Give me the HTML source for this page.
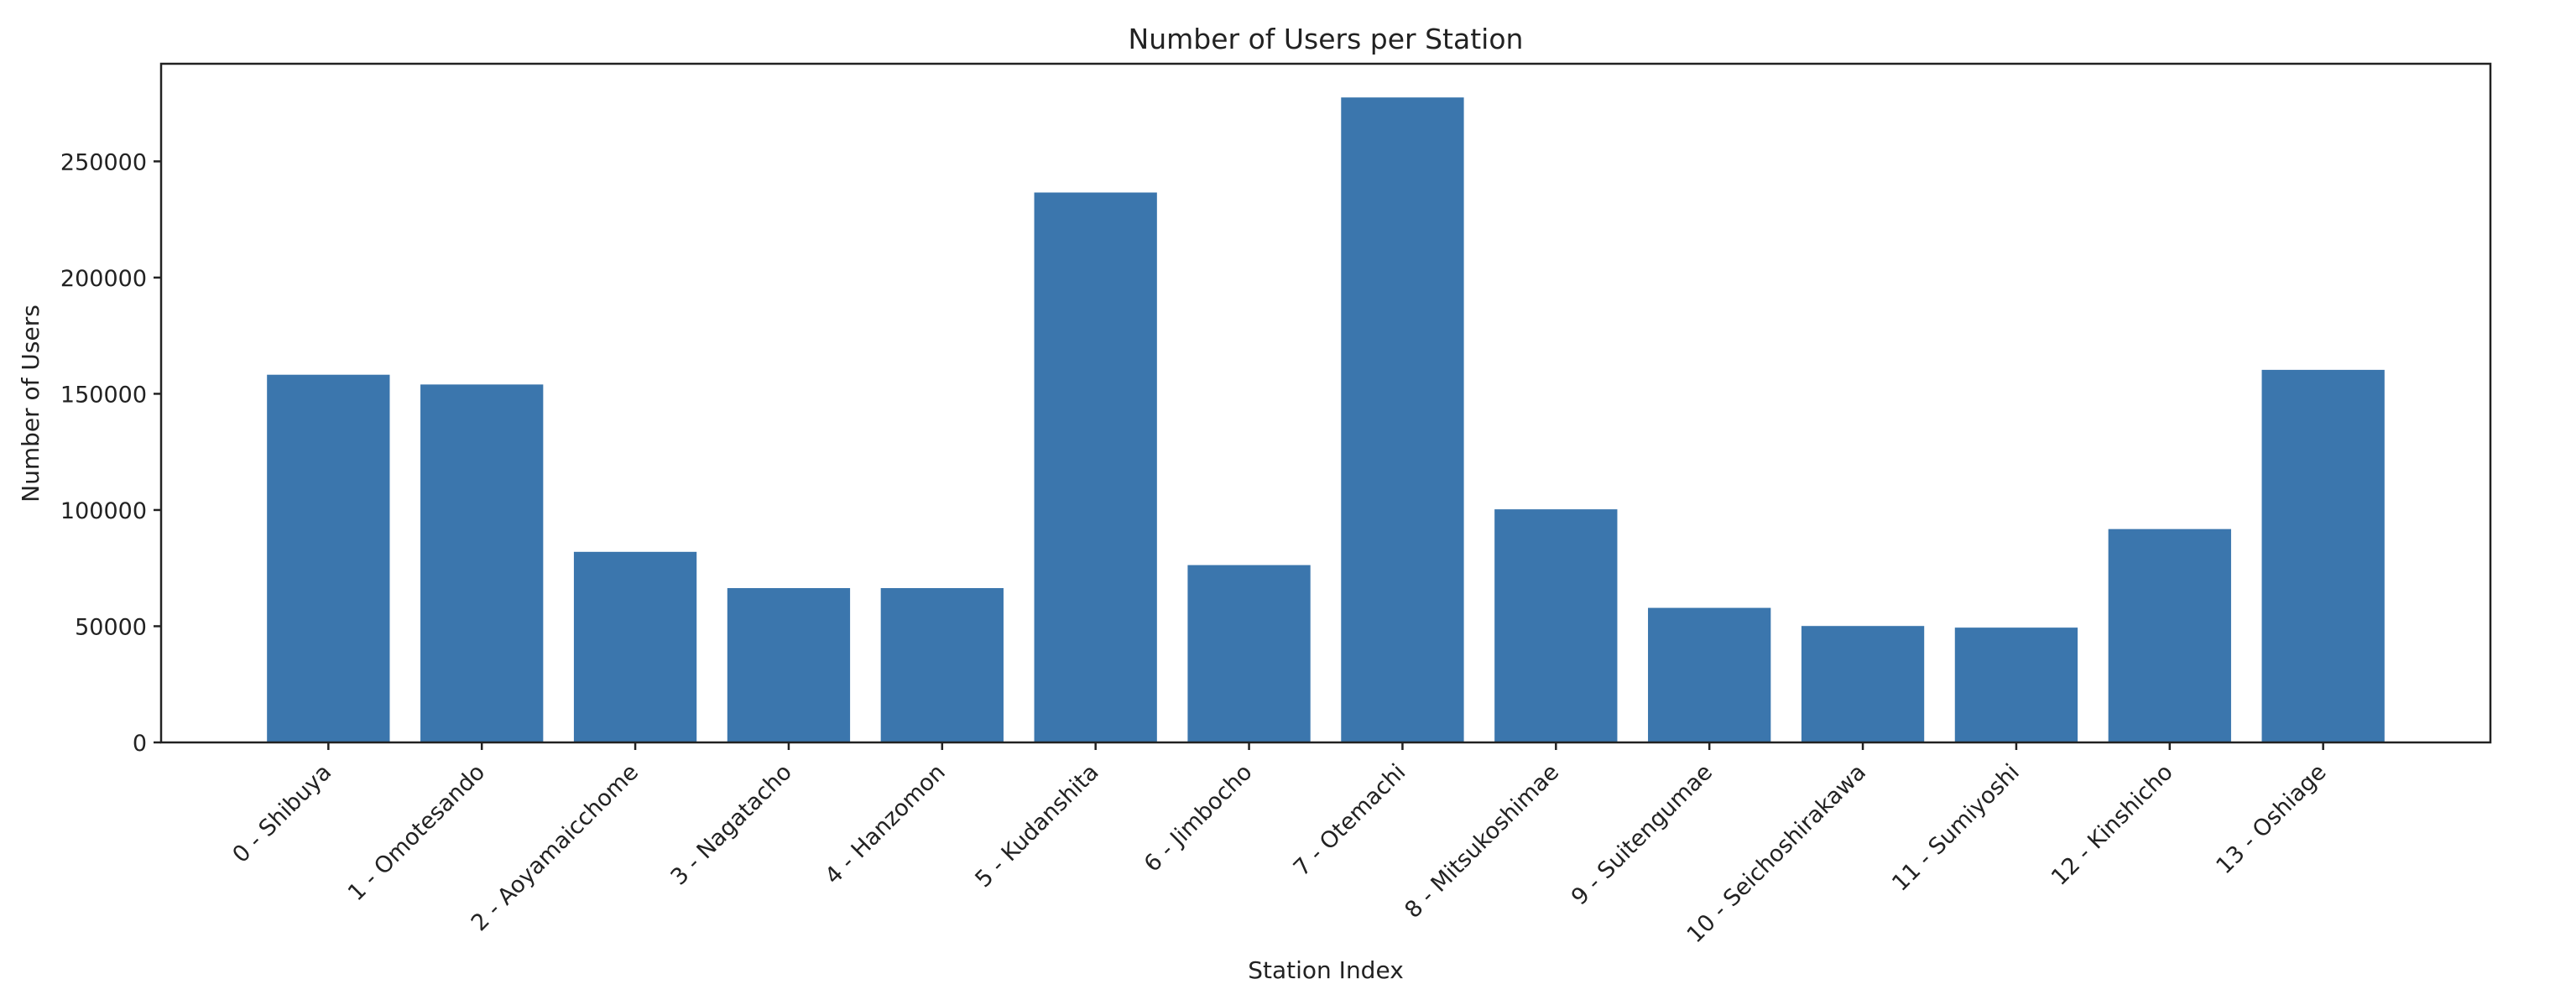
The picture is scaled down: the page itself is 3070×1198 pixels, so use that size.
<!DOCTYPE html>
<html><head><meta charset="utf-8"><style>
html,body{margin:0;padding:0;background:#fff;}
svg{display:block;font-family:"DejaVu Sans","Liberation Sans",sans-serif;}
</style></head><body>
<svg id="chart" width="3070" height="1198" viewBox="0 0 3070 1198" xmlns="http://www.w3.org/2000/svg">
<rect x="0" y="0" width="3070" height="1198" fill="#fff"/>
<text x="1580" y="58" text-anchor="middle" font-size="33" fill="#222">Number of Users per Station</text>
<text x="1580" y="1166" text-anchor="middle" font-size="28" fill="#222">Station Index</text>
<text transform="translate(46,481) rotate(-90)" text-anchor="middle" font-size="28" fill="#222">Number of Users</text>
<g id="bars"></g><g id="xticks"></g><g id="yticks"></g>
<rect x="192" y="76" width="2776" height="809" fill="none" stroke="#222" stroke-width="2.5"/>
</svg>
<script>
const categories = ["0 - Shibuya","1 - Omotesando","2 - Aoyamaicchome","3 - Nagatacho","4 - Hanzomon","5 - Kudanshita","6 - Jimbocho","7 - Otemachi","8 - Mitsukoshimae","9 - Suitengumae","10 - Seichoshirakawa","11 - Sumiyoshi","12 - Kinshicho","13 - Oshiage"];
const users = [158200,154000,82000,66400,66400,236600,76300,277500,100300,57900,50100,49400,91800,160300];
const yTicks = [0,50000,100000,150000,200000,250000];
const yTickLabels = ["0","50000","100000","150000","200000","250000"];

const NS="http://www.w3.org/2000/svg";
const L=192,R=2968,T=76,B=885;
const xMin=-1.09,xMax=categories.length-1+1.09,yMax=292000;
function xs(v){return L+(v-xMin)/(xMax-xMin)*(R-L);}
function ys(v){return B-v/yMax*(B-T);}
const unit=xs(1)-xs(0);
const gb=document.getElementById('bars'),gx=document.getElementById('xticks'),gy=document.getElementById('yticks');
users.forEach((v,i)=>{
  const r=document.createElementNS(NS,'rect');
  r.setAttribute('x',xs(i-0.4));r.setAttribute('y',ys(v));
  r.setAttribute('width',unit*0.8);r.setAttribute('height',ys(0)-ys(v));
  r.setAttribute('fill','#3b76ad');
  
  
  gb.appendChild(r);
});
categories.forEach((c,i)=>{
  const cx=xs(i);
  const t=document.createElementNS(NS,'line');
  t.setAttribute('x1',cx);t.setAttribute('x2',cx);t.setAttribute('y1',B);t.setAttribute('y2',B+9);
  t.setAttribute('stroke','#222');t.setAttribute('stroke-width','2.5');
  
  
  gx.appendChild(t);
  const tx=document.createElementNS(NS,'text');
  tx.setAttribute('transform','translate('+(cx+5)+','+(B+37)+') rotate(-45)');
  tx.setAttribute('text-anchor','end');tx.setAttribute('font-size','27');tx.setAttribute('fill','#222');
  tx.textContent=c;
  
  
  gx.appendChild(tx);
});
yTicks.forEach((v,i)=>{
  const y=ys(v);
  const t=document.createElementNS(NS,'line');
  t.setAttribute('x1',L-9);t.setAttribute('x2',L);t.setAttribute('y1',y);t.setAttribute('y2',y);
  t.setAttribute('stroke','#222');t.setAttribute('stroke-width','2.5');
  
  
  gy.appendChild(t);
  const tx=document.createElementNS(NS,'text');
  tx.setAttribute('x',L-17);tx.setAttribute('y',y+10);
  tx.setAttribute('text-anchor','end');tx.setAttribute('font-size','27');tx.setAttribute('fill','#222');
  tx.textContent=yTickLabels[i];
  
  
  gy.appendChild(tx);
});
</script>
</body></html>
